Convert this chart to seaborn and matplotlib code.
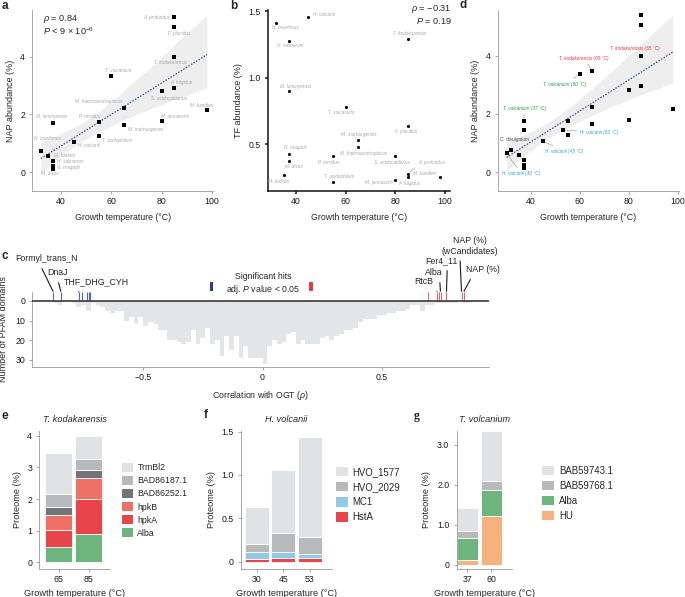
import numpy as np
import pandas as pd
import matplotlib
matplotlib.use("Agg")
import matplotlib.pyplot as plt
import seaborn as sns
from matplotlib.patches import Patch, Rectangle

# --- a / b : per species values ---
species = ["A. profundus", "F. placidus", "T. kodakarensis", "A. fulgidus",
           "S. acidocaldarius", "M. kandleri", "M. jannaschii", "T. volcanium",
           "M. thermautotrophicus", "M. marburgensis", "P. torridus", "T. acidophilum",
           "M. luminyensis", "H. volcanii", "N. maritimus", "M. barkeri",
           "H. salinarum", "N. magadii", "M. alvus"]
growth_temp = [85, 85, 85, 85, 80, 98, 80, 60, 65, 65, 55, 55, 37, 45, 32, 35, 37, 37, 37]
nap_abund = [5.38, 5.03, 3.99, 2.93, 2.81, 2.15, 1.76, 3.35, 2.24, 1.65, 1.73, 1.26,
             1.72, 1.03, 0.73, 0.55, 0.37, 0.22, 0.10]
tf_abund = [0.28, 0.64, 1.29, 0.255, 0.41, 0.255, 0.235, 0.78, 0.48, 0.53, 0.41, 0.215,
            0.90, 1.457, 1.415, 0.27, 1.28, 0.43, 0.375]

# --- d : NAP abundance incl. extra growth conditions ---
d_temp = [85, 85, 85, 85, 80, 80, 98, 65, 60, 65, 65, 55, 55, 53, 45, 37, 37, 30, 32, 35, 37, 37, 37]
d_nap = [5.40, 5.05, 4.00, 2.95, 2.82, 1.79, 2.17, 3.47, 3.37, 2.25, 1.66, 1.75, 1.28,
         1.44, 1.07, 1.74, 1.43, 0.64, 0.76, 0.57, 0.40, 0.25, 0.13]
d_names = ["T. kodakarensis (85 °C)", "T. kodakarensis (65 °C)", "T. volcanium (60 °C)",
           "T. volcanium (37 °C)", "C. divulgatum", "H. volcanii (53 °C)",
           "H. volcanii (45 °C)", "H. volcanii (30 °C)"]
d_name_idx = [2, 7, 8, 15, 16, 13, 14, 17]

# --- c : histogram of PFAM domain correlations with OGT ---
rho_lo, rho_hi, rho_step = -0.88, 0.92, 0.02
rho_centers = np.linspace(-0.87, 0.91, 90)
domain_counts = [1, 2, 0, 0, 1, 3, 2, 5, 1, 2, 3, 5, 6, 5, 5, 10, 8, 12, 8, 13, 11, 12,
                 15, 15, 20, 20, 21, 22, 21, 15, 22, 19, 14, 22, 20, 28, 18, 25, 18, 29,
                 23, 29, 29, 29,
                 32, 23, 20, 22, 21, 17, 16, 22, 20, 22, 22, 22, 19, 18, 20, 18, 17,
                 15, 15, 14, 11, 9, 9, 9, 7, 7, 6, 6, 5, 5, 4, 2, 2, 5, 2, 2, 1, 1, 1,
                 1, 1, 0, 1, 1, 0, 0]
neg_hits = [-0.877, -0.845, -0.770, -0.756, -0.735, -0.728, -0.722]
pos_hits = [0.695, 0.733, 0.740, 0.746, 0.771, 0.834, 0.843]
hit_names = ["Formyl_trans_N", "DnaJ", "THF_DHG_CYH", "RtcB", "Alba", "Fer4_11",
             "NAP (%)\n(wCandidates)", "NAP (%)"]
hit_rho = [-0.877, -0.845, -0.770, 0.733, 0.746, 0.771, 0.834, 0.843]

# --- e / f / g : stacked proteome fractions ---
e_temps = ["65", "85"]
e_layers = [("Alba", [0.49, 0.89]), ("hpkA", [0.53, 1.11]), ("hpkB", [0.47, 0.67]),
            ("BAD86252.1", [0.25, 0.25]), ("BAD86187.1", [0.41, 0.34]), ("TrmBl2", [1.32, 0.74])]
f_temps = ["30", "45", "53"]
f_layers = [("HstA", [0.027, 0.046, 0.038]), ("MC1", [0.081, 0.062, 0.050]),
            ("HVO_2029", [0.092, 0.227, 0.200]), ("HVO_1577", [0.427, 0.723, 1.154])]
g_temps = ["37", "60"]
g_layers = [("HU", [0.125, 1.225]), ("Alba", [0.535, 0.65]),
            ("BAB59768.1", [0.17, 0.21]), ("BAB59743.1", [0.58, 1.25])]

COLORS = {"Alba": "#6db47d", "hpkA": "#e8454a", "hpkB": "#ef7166", "BAD86252.1": "#737477",
          "BAD86187.1": "#b8b9bb", "TrmBl2": "#e1e2e4", "HstA": "#e8454a", "MC1": "#93c9e5",
          "HVO_2029": "#b8b9bb", "HVO_1577": "#e1e2e4", "HU": "#f4b27e",
          "BAB59768.1": "#b8b9bb", "BAB59743.1": "#e1e2e4"}

# label placement (pixel offsets from the point, ha)
a_lab_pos = [(-4, 0, "right"), (5, -6, "center"), (-4, -5, "center"), (7, 5, "center"),
             (7, -7, "center"), (-5, 5, "center"), (13, 5, "center"), (7, 5, "center"),
             (-25, 6, "center"), (22, -5, "center"), (-9, 6, "center"), (18, -5, "center"),
             (-2, 6, "center"), (15, -3, "center"), (7, 13, "center"), (6, 1, "left"),
             (4, 0, "left"), (4, -2, "left"), (-4, -4, "center")]
b_lab_pos = [(24, 11, "center"), (-2, -6, "center"), (2, 6, "center"), (2, -6, "center"),
             (-3, -6, "center"), (-15, 4, "center"), (-17, -3, "center"), (-4, -5, "center"),
             (6, -6, "center"), (1, 6, "center"), (-5, -6, "center"), (6, 6, "center"),
             (7, 5, "center"), (5, 3, "left"), (9, -5, "center"), (-5, -6, "center"),
             (2, -5, "center"), (7, 6, "center"), (5, -5, "center")]
d_lab_pos = [(-6, 7), (-8, 13), (-15, -10), (1, 13), (-9, -9), (36, -2), (21, -11), (15, -20)]
d_lab_col = ["#e8393f", "#e8393f", "#1e9c4c", "#1e9c4c", "#444444", "#2fa0dc", "#2fa0dc", "#2fa0dc"]
c_lab_pos = [(-7, 33, 0.39), (-3, 19, 0.47), (18, 10, 0.19), (-14, 10, 1.0),
             (-7, 19, 0.84), (-5, 31, 0.68), (8, 46, 0.33), (19, 22, 0.22)]

sns.set_theme(style="ticks")
plt.rcParams["font.family"] = ["Liberation Sans", "DejaVu Sans"]
plt.rcParams["mathtext.fontset"] = "custom"
plt.rcParams["mathtext.rm"] = "Liberation Sans"
plt.rcParams["mathtext.it"] = "Liberation Sans:italic"

FS = 6.3
SP = "#9a9a9a"
W, H = 685, 597
fig = plt.figure(figsize=(W / 100, H / 100), dpi=100)


def add_ax(l, t, r, b):
    return fig.add_axes([l / W, 1 - b / H, (r - l) / W, (b - t) / H])


def style(ax, col=SP, lw=0.6):
    sns.despine(ax=ax)
    for s in ("left", "bottom"):
        ax.spines[s].set_color(col)
        ax.spines[s].set_linewidth(lw)
    ax.tick_params(colors=col, labelcolor="#1a1a1a", length=2.2, width=lw, labelsize=FS)
    ax.tick_params(axis="x", pad=2)
    ax.tick_params(axis="y", pad=3)


def scatter_panel(ax, x, y, marker, s, ylabel):
    sns.scatterplot(x=x, y=y, marker=marker, s=s, color="black", linewidth=0, ax=ax, zorder=4)
    ax.set_xlabel("Growth temperature (°C)", fontsize=FS, labelpad=5)
    ax.set_ylabel(ylabel, fontsize=FS + 0.2, labelpad=4)
    ax.set_xticks([40, 60, 80, 100])


def fit_panel(ax, x, y):
    sns.regplot(x=x, y=y, scatter=False, ci=95, seed=7,
                line_kws=dict(color="#3b4ba5", lw=0.9, ls=(0, (1.2, 1.2))), ax=ax)
    # grey confidence band instead of the line colour
    ax.collections[-1].set_facecolor("#8e8e8e")


lab_kw = dict(textcoords="offset pixels", va="center", fontsize=3.4, style="italic", color="#a9a9a9")

# ---------------- a ----------------
ax = add_ax(32.3, 10, 213, 191)
fit_panel(ax, growth_temp, nap_abund)
scatter_panel(ax, growth_temp, nap_abund, "s", 9, "NAP abundance (%)")
for name, x, y, (dx, dy, ha) in zip(species, growth_temp, nap_abund, a_lab_pos):
    ax.annotate(name, (x, y), xytext=(dx, dy), ha=ha, **lab_kw)
ax.set_xlim(28.6, 100.4)
ax.set_ylim(-0.66, 5.63)
ax.set_yticks([0, 2, 4])
ax.text(0.059, 0.952, r"$\rho$ = 0.84", transform=ax.transAxes, fontsize=6.6, va="center")
ax.text(0.059, 0.884, r"$P$ < 9 × 10$^{-6}$", transform=ax.transAxes, fontsize=6.6, va="center")
style(ax)

# ---------------- b ----------------
ax = add_ax(268, 10, 450, 191)
scatter_panel(ax, growth_temp, tf_abund, "o", 5, "TF abundance (%)")
for name, x, y, (dx, dy, ha) in zip(species, growth_temp, tf_abund, b_lab_pos):
    if name == "A. profundus":
        ax.annotate(name, (x, y), xytext=(dx, dy), ha=ha, **lab_kw,
                    arrowprops=dict(arrowstyle="-", color="#9a9a9a", lw=0.4,
                                    relpos=(0, 0), shrinkA=0, shrinkB=2))
    else:
        ax.annotate(name, (x, y), xytext=(dx, dy), ha=ha, **lab_kw)
ax.set_xlim(28.7, 102)
ax.set_ylim(0.15, 1.51)
ax.set_yticks([0.5, 1.0, 1.5])
ax.text(1.01, 1.004, r"$\rho$ = −0.31", transform=ax.transAxes, fontsize=6.6, ha="right", va="center")
ax.text(1.01, 0.940, r"$P$ = 0.19", transform=ax.transAxes, fontsize=6.6, ha="right", va="center")
style(ax, col="#111111", lw=1.1)

# ---------------- d ----------------
ax = add_ax(497.7, 10, 679, 191)
fit_panel(ax, d_temp, d_nap)
scatter_panel(ax, d_temp, d_nap, "s", 9, "NAP abundance (%)")
for name, i, (dx, dy), col in zip(d_names, d_name_idx, d_lab_pos, d_lab_col):
    arrow = None if i == 2 else dict(arrowstyle="-", color="#8a8a8a", lw=0.4, shrinkA=0, shrinkB=2)
    ax.annotate(name, (d_temp[i], d_nap[i]), xytext=(dx, dy), textcoords="offset pixels",
                ha="center", va="center", fontsize=3.4, style="italic", color=col, arrowprops=arrow)
ax.set_xlim(26.4, 100.5)
ax.set_ylim(-0.65, 5.57)
ax.set_yticks([0, 2, 4])
style(ax)

# ---------------- c ----------------
ax = add_ax(32.3, 291.7, 488.7, 367.3)
hist_df = pd.DataFrame({"rho": rho_centers, "n": domain_counts})
sns.histplot(data=hist_df, x="rho", weights="n", binwidth=rho_step, binrange=(rho_lo, rho_hi),
             color="#e4e5e6", alpha=1, linewidth=0, ax=ax)
ax.vlines(neg_hits, 0, -4.3, colors="#5866bd", lw=0.8, zorder=3)
ax.vlines(pos_hits, 0, -4.3, colors="#f0575a", lw=0.7, zorder=3)
ax.axhline(0, color="#3a3a3a", lw=1.2, zorder=4)
for name, r, (dx, dy, rp) in zip(hit_names, hit_rho, c_lab_pos):
    ax.annotate(name, (r, -4.5), xytext=(dx, dy), textcoords="offset pixels", ha="center",
                va="center", fontsize=FS, multialignment="center", annotation_clip=False,
                arrowprops=dict(arrowstyle="-", color="#1a1a1a", lw=0.8, relpos=(rp, 0),
                                shrinkA=1.5, shrinkB=0.5))
ax.set_xlim(-0.965, 0.948)
ax.set_ylim(33.7, -4.6)
ax.set_yticks([0, 10, 20, 30])
ax.set_xticks([-0.5, 0, 0.5])
ax.set_xticklabels(["−0.5", "0", "0.5"])
ax.set_xlabel(r"Correlation with OGT ($\rho$)", fontsize=FS, labelpad=5)
ax.set_ylabel("Number of PFAM domains", fontsize=FS + 0.2, labelpad=5)
style(ax)
fig.text(263.3 / W, 1 - 276.7 / H, "Significant hits", ha="center", va="center", fontsize=FS)
fig.text(263.3 / W, 1 - 289 / H, r"adj. $P$ value < 0.05", ha="center", va="center", fontsize=FS)
fig.add_artist(Rectangle((210 / W, 1 - 291 / H), 3.3 / W, 9 / H, transform=fig.transFigure,
                         color="#2a3b97", lw=0))
fig.add_artist(Rectangle((309.3 / W, 1 - 291 / H), 3.3 / W, 9 / H, transform=fig.transFigure,
                         color="#e8393f", lw=0))


# ---------------- e / f / g ----------------
def stacked(ax, temps, layers, width):
    bottom = np.zeros(len(temps))
    for name, vals in layers:
        sns.barplot(x=temps, y=vals, bottom=bottom, color=COLORS[name], width=width,
                    saturation=1, edgecolor="white", linewidth=0.6, errorbar=None, ax=ax)
        bottom = bottom + np.asarray(vals)
    ax.set_xlabel("Growth temperature (°C)", fontsize=FS + 0.3, labelpad=4)
    ax.set_ylabel("Proteome (%)", fontsize=FS + 0.3, labelpad=4)


def bar_legend(ax, layers, x, y, fs, hl, hh, ls):
    handles = [Patch(facecolor=COLORS[n], edgecolor="none") for n, _ in layers[::-1]]
    ax.legend(handles, [n for n, _ in layers[::-1]], loc="upper left",
              bbox_to_anchor=(x / W, 1 - y / H), bbox_transform=fig.transFigure,
              frameon=False, borderpad=0, borderaxespad=0, fontsize=fs,
              handlelength=hl, handleheight=hh, labelspacing=ls, handletextpad=0.5)


ax = add_ax(39.3, 430.7, 110, 569)
stacked(ax, e_temps, e_layers, 0.9)
ax.set_xlim(-0.64, 1.70)
ax.set_ylim(-0.21, 4.16)
ax.set_yticks([0, 1, 2, 3, 4])
ax.set_title("T. kodakarensis", style="italic", fontsize=FS + 0.3, pad=6)
style(ax)
bar_legend(ax, e_layers, 122, 463, FS, 1.25, 1.15, 0.43)

ax = add_ax(241, 430.7, 331.7, 569)
stacked(ax, f_temps, f_layers, 0.91)
ax.set_xlim(-0.61, 2.84)
ax.set_ylim(-0.084, 1.51)
ax.set_yticks([0, 0.5, 1.0, 1.5])
ax.set_yticklabels(["0", "0.5", "1.0", "1.5"])
ax.set_title("H. volcanii", style="italic", fontsize=FS + 0.3, pad=6)
style(ax)
bar_legend(ax, f_layers, 336, 467, 6.9, 1.22, 1.1, 0.53)

ax = add_ax(456.5, 430.7, 512.3, 569)
stacked(ax, g_temps, g_layers, 0.85)
ax.set_xlim(-0.45, 1.875)
ax.set_ylim(-0.11, 3.35)
ax.set_yticks([0, 1, 2, 3])
ax.set_yticklabels(["0", "1.0", "2.0", "3.0"])
ax.set_title("T. volcanium", style="italic", fontsize=FS + 0.3, pad=6)
style(ax)
bar_legend(ax, g_layers, 542.3, 465.5, 6.9, 1.22, 1.1, 0.53)

# panel letters
for letter, x, y, fam in [("a", 2, 6, None), ("b", 230, 6, None), ("d", 459, 5, None),
                          ("c", 1, 256, None), ("e", 1, 416, None), ("f", 204, 415, None),
                          ("g", 414, 416, "Liberation Serif")]:
    kw = dict(fontsize=8.5, weight="bold", ha="left", va="center")
    if fam:
        kw["family"] = fam
    fig.text(x / W, 1 - y / H, letter, **kw)

fig.savefig("out.png", dpi=100)
